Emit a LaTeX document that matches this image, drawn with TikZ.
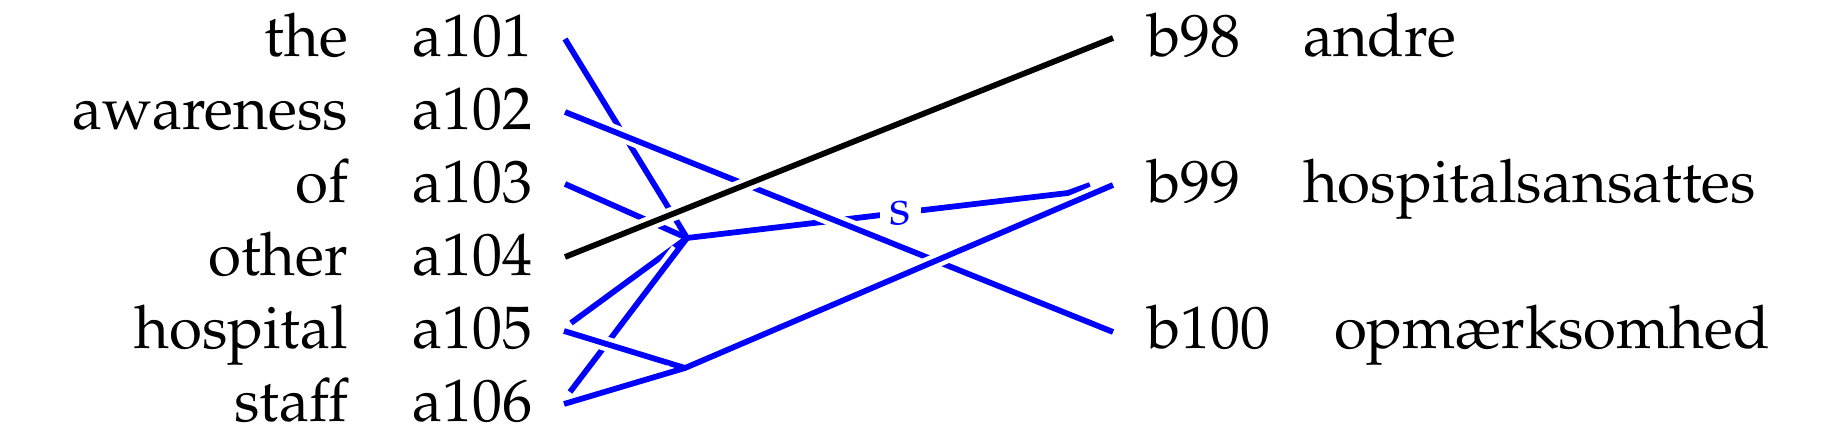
\documentclass[tikz,border=0pt]{standalone}
\usepackage[T1]{fontenc}
\usepackage{mathpazo}
\tikzset{
  lnk/.style={line width=1.15pt, line cap=butt, line join=miter,
    preaction={draw=white, line width=2.9pt, shorten <=3pt, shorten >=3pt}},
  blu/.style={lnk, draw=blue},
  blk/.style={lnk, draw=black},
  word/.style={inner sep=0pt, font=\fontsize{12}{14}\selectfont},
  slab/.style={fill=white, text=blue, inner xsep=2pt, inner ysep=1pt, font=\fontsize{10}{12}\selectfont},
}
\begin{document}
\begin{tikzpicture}[x=0.2pt,y=-0.2pt]
\useasboundingbox (0,0) rectangle (1848,447);
% left words
\node[word, anchor=base east] (w1) at (349,57) {the};
\node[word, anchor=base east] (w2) at (349,130) {awareness};
\node[word, anchor=base east] (w3) at (349,203) {of};
\node[word, anchor=base east] (w4) at (349,276) {other};
\node[word, anchor=base east] (w5) at (349,349) {hospital};
\node[word, anchor=base east] (w6) at (349,422) {staff};
% left ids
\node[word, anchor=base west] (a101) at (411,57) {a101};
\node[word, anchor=base west] (a102) at (411,130) {a102};
\node[word, anchor=base west] (a103) at (411,203) {a103};
\node[word, anchor=base west] (a104) at (411,276) {a104};
\node[word, anchor=base west] (a105) at (411,349) {a105};
\node[word, anchor=base west] (a106) at (411,422) {a106};
% right ids and words
\node[word, anchor=base west] (b98) at (1146,57) {b98};
\node[word, anchor=base west] (b99) at (1146,203) {b99};
\node[word, anchor=base west] (b100) at (1146,349) {b100};
\node[word, anchor=base west] (v98) at (1302,57) {andre};
\node[word, anchor=base west] (v99) at (1302,203) {hospitalsansattes};
\node[word, anchor=base west] (v100) at (1333,349) {opm\ae rksomhed};
% connector ends
\coordinate (p101) at (565,39);
\coordinate (p102) at (565,112);
\coordinate (p103) at (565,184);
\coordinate (p104) at (565,257);
\coordinate (p105u) at (571,323);
\coordinate (p105) at (564,331);
\coordinate (p106u) at (570,392);
\coordinate (p106) at (564,404);
\coordinate (J1) at (687,238);
\coordinate (J2) at (685,368);
\coordinate (k1) at (1068,193);
\coordinate (send) at (1090,185);
\coordinate (q98) at (1113,38);
\coordinate (q99) at (1113,185);
\coordinate (q100) at (1113,332);
% connectors
\draw[blu] (p101) -- (J1);
\draw[blu] (p103) -- (J1);
\draw[blu] (p105u) -- (J1);
\draw[blu] (p106u) -- (J1);
\draw[blu] (J1) -- node[slab, pos=0.56] (s) {s} (k1) -- (send);
\draw[blu] (p102) -- (q100);
\draw[blk] (p104) -- (q98);
\draw[blu] (p105) -- (J2) -- (q99);
\draw[blu] (p106) -- (J2);
\end{tikzpicture}
\end{document}
